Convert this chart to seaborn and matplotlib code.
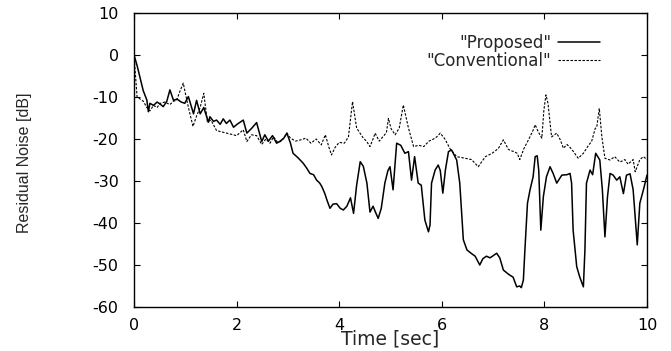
import matplotlib
matplotlib.use("Agg")
import matplotlib.pyplot as plt
import seaborn as sns
import pandas as pd

# Residual noise traces (time in seconds, level in dB)
t_proposed = [0.00, 0.06, 0.12, 0.18, 0.25, 0.28, 0.31, 0.38, 0.45, 0.50, 0.57, 0.64, 0.70, 0.77,
              0.84, 0.92, 0.99, 1.06, 1.16, 1.22, 1.29, 1.36, 1.45, 1.48, 1.55, 1.61, 1.68, 1.74,
              1.80, 1.87, 1.94, 2.02, 2.13, 2.20, 2.29, 2.39, 2.49, 2.55, 2.62, 2.70, 2.78, 2.85,
              2.92, 2.98, 3.05, 3.10, 3.20, 3.30, 3.37, 3.43, 3.50, 3.56, 3.62, 3.66, 3.72, 3.76,
              3.82, 3.88, 3.95, 4.02, 4.08, 4.15, 4.22, 4.28, 4.34, 4.41, 4.47, 4.54, 4.60, 4.66,
              4.71, 4.76, 4.82, 4.89, 4.95, 4.99, 5.05, 5.12, 5.20, 5.28, 5.35, 5.41, 5.47, 5.54,
              5.60, 5.67, 5.74, 5.77, 5.80, 5.87, 5.93, 5.97, 6.02, 6.07, 6.13, 6.19, 6.29, 6.35,
              6.42, 6.49, 6.57, 6.65, 6.74, 6.80, 6.87, 6.94, 7.00, 7.07, 7.13, 7.20, 7.30, 7.39,
              7.46, 7.52, 7.55, 7.59, 7.62, 7.67, 7.72, 7.78, 7.82, 7.86, 7.89, 7.93, 7.98, 8.04,
              8.11, 8.17, 8.24, 8.34, 8.44, 8.50, 8.53, 8.56, 8.63, 8.69, 8.76, 8.79, 8.82, 8.89,
              8.94, 9.00, 9.08, 9.13, 9.18, 9.23, 9.28, 9.34, 9.41, 9.47, 9.54, 9.60, 9.67, 9.73,
              9.79, 9.81, 9.86, 9.93, 10.00]
db_proposed = [0.0, -2.5, -5.5, -8.5, -10.7, -13.5, -11.5, -12.0, -11.2, -11.6, -12.3, -11.0, -8.3, -10.8,
               -10.5, -11.2, -11.5, -9.9, -14.0, -10.8, -14.0, -12.5, -16.0, -14.7, -15.8, -15.5, -16.5, -15.2,
               -16.3, -15.5, -17.2, -16.4, -15.5, -18.6, -17.5, -16.1, -20.6, -19.0, -20.5, -19.2, -21.0, -20.5,
               -19.8, -18.6, -21.0, -23.4, -24.5, -25.8, -27.0, -28.2, -28.5, -29.8, -30.5, -31.3, -33.0, -34.5,
               -36.5, -35.5, -35.4, -36.5, -36.9, -36.0, -34.0, -37.7, -31.0, -25.4, -26.5, -30.5, -37.4, -36.0,
               -37.5, -38.9, -36.5, -30.5, -27.5, -26.6, -32.1, -21.0, -21.5, -23.4, -23.0, -29.8, -24.2, -30.5,
               -31.0, -39.3, -42.1, -40.5, -30.5, -27.4, -26.2, -27.5, -32.9, -27.4, -23.0, -22.6, -25.0, -30.5,
               -44.0, -46.4, -47.2, -47.9, -50.0, -48.5, -47.9, -48.3, -47.8, -47.2, -48.3, -51.2, -52.2, -52.9,
               -55.2, -55.0, -55.4, -53.6, -46.4, -35.3, -32.1, -29.0, -24.2, -24.0, -27.5, -41.7, -33.7, -29.0,
               -26.6, -28.2, -30.5, -28.6, -28.5, -28.2, -30.5, -41.7, -50.4, -52.9, -55.2, -46.4, -30.5, -27.4,
               -28.5, -23.4, -25.0, -32.1, -43.3, -33.7, -28.2, -28.6, -29.8, -29.0, -33.0, -28.6, -28.3, -32.1,
               -42.1, -45.2, -35.3, -32.1, -28.6]

t_conventional = [0.00, 0.03, 0.06, 0.12, 0.18, 0.25, 0.31, 0.38, 0.45, 0.51, 0.60, 0.70, 0.77, 0.83,
                  0.90, 0.96, 1.03, 1.09, 1.15, 1.22, 1.29, 1.36, 1.43, 1.50, 1.61, 1.74, 1.87, 2.00,
                  2.13, 2.20, 2.29, 2.39, 2.49, 2.57, 2.65, 2.72, 2.80, 2.88, 2.98, 3.05, 3.15, 3.25,
                  3.35, 3.45, 3.55, 3.65, 3.73, 3.80, 3.85, 3.92, 4.00, 4.10, 4.18, 4.26, 4.34, 4.40,
                  4.47, 4.53, 4.60, 4.66, 4.70, 4.78, 4.85, 4.92, 4.96, 5.01, 5.09, 5.17, 5.25, 5.35,
                  5.45, 5.55, 5.65, 5.75, 5.84, 5.90, 5.97, 6.06, 6.16, 6.29, 6.42, 6.58, 6.71, 6.85,
                  6.98, 7.10, 7.20, 7.30, 7.40, 7.47, 7.52, 7.60, 7.69, 7.78, 7.82, 7.88, 7.95, 7.99,
                  8.03, 8.07, 8.14, 8.24, 8.31, 8.37, 8.44, 8.50, 8.56, 8.66, 8.76, 8.86, 8.92, 8.99,
                  9.02, 9.07, 9.12, 9.18, 9.28, 9.37, 9.47, 9.57, 9.63, 9.73, 9.77, 9.86, 9.93, 10.00]
db_conventional = [0.0, -5.0, -10.0, -10.5, -11.0, -12.5, -13.3, -12.0, -12.5, -11.5, -11.2, -11.8, -11.0, -10.8,
                   -8.5, -6.7, -10.8, -14.0, -17.0, -14.5, -12.5, -9.1, -15.9, -15.5, -18.0, -18.4, -18.8, -19.2,
                   -17.8, -20.6, -19.0, -19.2, -21.3, -20.0, -21.0, -19.5, -20.8, -20.5, -18.6, -19.8, -20.5, -20.2,
                   -19.8, -21.0, -20.0, -21.4, -19.0, -22.0, -23.8, -22.0, -20.8, -21.0, -19.5, -11.1, -17.4, -18.5,
                   -19.8, -20.5, -21.8, -20.0, -18.6, -20.5, -19.5, -18.5, -15.1, -17.5, -19.0, -17.4, -11.9, -17.4,
                   -21.8, -21.5, -21.8, -20.5, -20.0, -19.5, -18.6, -20.0, -22.3, -24.2, -24.5, -24.9, -26.6, -24.2,
                   -23.4, -22.3, -20.2, -22.5, -23.0, -23.4, -24.9, -22.3, -20.2, -17.9, -16.6, -18.3, -19.8, -13.1,
                   -9.5, -11.5, -19.5, -18.6, -20.2, -22.2, -21.3, -22.0, -22.9, -24.6, -23.4, -21.5, -20.6, -17.5,
                   -17.2, -12.7, -19.5, -24.6, -25.0, -24.2, -25.5, -24.9, -26.0, -24.9, -27.8, -24.9, -24.2, -24.9]

x_ticks = [0, 2, 4, 6, 8, 10]
y_ticks = [10, 0, -10, -20, -30, -40, -50, -60]

df_prop = pd.DataFrame({"t": t_proposed, "db": db_proposed})
df_conv = pd.DataFrame({"t": t_conventional, "db": db_conventional})

sns.set_theme(style="ticks")
plt.rcParams["font.family"] = ["DejaVu Sans"]
plt.rcParams["axes.unicode_minus"] = False

fig = plt.figure(figsize=(6.71, 3.51), dpi=100)
ax = fig.add_axes([134 / 671, 1 - 307 / 351, (647 - 134) / 671, (307 - 13) / 351])

sns.lineplot(data=df_prop, x="t", y="db", ax=ax, color="black", linewidth=1.1,
             estimator=None, sort=False, label='"Proposed"')
sns.lineplot(data=df_conv, x="t", y="db", ax=ax, color="black", linewidth=0.8,
             estimator=None, sort=False, label='"Conventional"')
ax.lines[1].set_dashes((2.2, 1.4))

ax.set_xlim(0, 10)
ax.set_ylim(-60, 10)
ax.set_xticks(x_ticks)
ax.set_yticks(y_ticks)
ax.tick_params(direction="in", length=4, width=0.8, top=True, right=True,
               labelsize=11.5, colors="black")
ax.tick_params(axis="y", pad=11)
ax.tick_params(axis="x", pad=8)
for s in ax.spines.values():
    s.set_linewidth(1.0)
    s.set_color("black")

ax.set_xlabel("Time [sec]", fontsize=13.5, labelpad=0)
ax.xaxis.set_label_coords(0.5, -0.075)
ax.set_ylabel("Residual Noise [dB]", fontsize=11.5,
              family=["Liberation Sans Narrow", "Liberation Sans", "DejaVu Sans"])
ax.yaxis.set_label_coords(-0.199, 0.49)

ax.legend(loc="upper right", bbox_to_anchor=(0.908, 0.93), frameon=False,
          markerfirst=False, fontsize=12, handlelength=2.5, handletextpad=0.4,
          labelspacing=0.0, borderaxespad=0, borderpad=0)

fig.savefig("out.png", dpi=100)
